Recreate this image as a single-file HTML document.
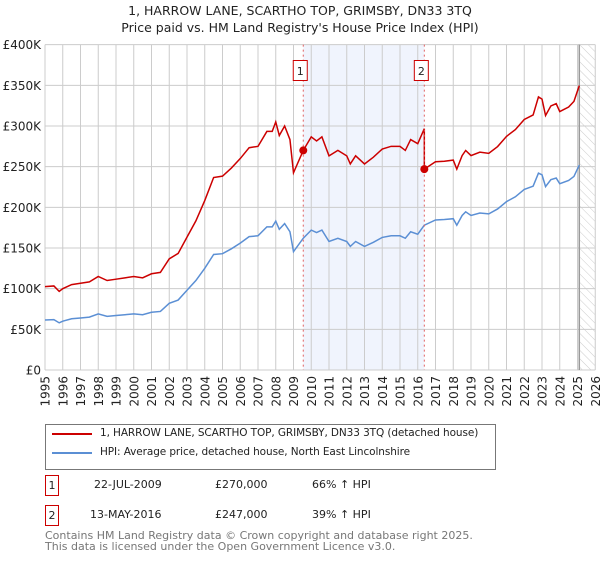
<!DOCTYPE html>
<html><head><meta charset="utf-8"><style>
body{margin:0;background:#fff;font-family:"DejaVu Sans","Liberation Sans",sans-serif;}
svg text{font-family:"DejaVu Sans","Liberation Sans",sans-serif;}
</style></head><body>
<svg id="chart" width="600" height="560" xmlns="http://www.w3.org/2000/svg">
<defs><pattern id="hatch" width="6" height="6" patternUnits="userSpaceOnUse" patternTransform="rotate(-45)"><line x1="0" y1="0" x2="0" y2="6" stroke="#ccc" stroke-width="1"/></pattern></defs>
<text x="300" y="15" text-anchor="middle" font-size="12.5" fill="#222">1, HARROW LANE, SCARTHO TOP, GRIMSBY, DN33 3TQ</text>
<text x="300" y="32" text-anchor="middle" font-size="12.5" fill="#222">Price paid vs. HM Land Registry's House Price Index (HPI)</text>
<g id="grid"></g><g id="marks"></g>
</svg>
<div style="position:absolute;left:45px;top:424px;width:449px;height:44px;border:1px solid #777;font-size:10.5px;color:#222;letter-spacing:-0.1px">
 <div style="position:absolute;left:6px;top:8px;width:40px;height:2px;background:#cc0000"></div>
 <div style="position:absolute;left:54px;top:2px;white-space:nowrap">1, HARROW LANE, SCARTHO TOP, GRIMSBY, DN33 3TQ (detached house)</div>
 <div style="position:absolute;left:6px;top:27px;width:40px;height:2px;background:#5b8fd4"></div>
 <div style="position:absolute;left:54px;top:21px;white-space:nowrap">HPI: Average price, detached house, North East Lincolnshire</div>
</div>
<div style="position:absolute;left:0;top:475px;width:600px;font-size:11px;color:#222">
 <div style="position:absolute;left:45px;top:0;width:12px;height:19px;border:1px solid #cc0000;text-align:center;line-height:19px">1</div>
 <div style="position:absolute;left:94px;top:3px">22-JUL-2009</div>
 <div style="position:absolute;left:215px;top:3px">£270,000</div>
 <div style="position:absolute;left:312px;top:3px">66% ↑ HPI</div>
 <div style="position:absolute;left:45px;top:30px;width:12px;height:19px;border:1px solid #cc0000;text-align:center;line-height:19px">2</div>
 <div style="position:absolute;left:90px;top:33px">13-MAY-2016</div>
 <div style="position:absolute;left:215px;top:33px">£247,000</div>
 <div style="position:absolute;left:312px;top:33px">39% ↑ HPI</div>
</div>
<div style="position:absolute;left:45px;top:530px;font-size:11px;line-height:11px;color:#777">Contains HM Land Registry data © Crown copyright and database right 2025.<br>This data is licensed under the Open Government Licence v3.0.</div>
<script>
const hpiYears=[1995,1995.5,1995.8,1996,1996.5,1997,1997.5,1998,1998.5,1999,1999.5,2000,2000.5,2001,2001.5,2002,2002.5,2003,2003.5,2004,2004.5,2005,2005.5,2006,2006.5,2007,2007.5,2007.8,2008,2008.2,2008.5,2008.8,2009,2009.55,2010,2010.3,2010.6,2011,2011.5,2012,2012.2,2012.5,2013,2013.5,2014,2014.5,2015,2015.3,2015.6,2016,2016.37,2017,2017.5,2018,2018.2,2018.5,2018.7,2019,2019.5,2020,2020.5,2021,2021.5,2022,2022.5,2022.8,2023,2023.2,2023.5,2023.8,2024,2024.5,2024.8,2025.1];
const hpiValues=[61.5,62,58,60,63,64,65,69,66,67,68,69,68,71,72,82,86,98,110,125,142,143,149,156,164,165,176,176,183,173,180,170,145.5,162,172,169,172,158,162,158,152,158,152,157,163,165,165,162,170,167,178,184.5,185,186,178,190,194.5,190,193,192,198,207,213,222,226,242,240,225.5,234,236,229,233,238,252];
const saleYears=[2009.55,2016.37];
const salePrices=[270,247];
const yTicks=[0,50,100,150,200,250,300,350,400];
const yTickLabels=["£0","£50K","£100K","£150K","£200K","£250K","£300K","£350K","£400K"];
const xTicks=[1995,1996,1997,1998,1999,2000,2001,2002,2003,2004,2005,2006,2007,2008,2009,2010,2011,2012,2013,2014,2015,2016,2017,2018,2019,2020,2021,2022,2023,2024,2025,2026];
const dataEnd=2025.1;
const NS='http://www.w3.org/2000/svg';
const X=y=>45+(y-1995)*17.75, Y=v=>370-v*0.8133;
function mk(t,a,p){const e=document.createElementNS(NS,t);for(const k in a)e.setAttribute(k,a[k]);p.appendChild(e);return e;}
const g=document.getElementById('grid'), m=document.getElementById('marks');
let r=mk('rect',{x:X(saleYears[0]),y:Y(400),width:X(saleYears[1])-X(saleYears[0]),height:Y(0)-Y(400),fill:'#f0f4fd'},g);


r=mk('rect',{x:X(dataEnd),y:Y(400),width:X(2026)-X(dataEnd),height:Y(0)-Y(400),fill:'url(#hatch)'},g);


yTicks.forEach((v,i)=>{
 const l=mk('line',{x1:45,x2:X(2026),y1:Y(v),y2:Y(v),stroke:'#ccc'},g);
 
 
 const t=mk('text',{x:41,y:Y(v)+4.5,'text-anchor':'end','font-size':'12',fill:'#222'},g);t.textContent=yTickLabels[i];
 
 
});
xTicks.forEach(y=>{
 const l=mk('line',{x1:X(y),x2:X(y),y1:Y(400),y2:Y(0),stroke:'#ccc'},g);
 
 
 const t=mk('text',{x:0,y:0,'text-anchor':'end','font-size':'12',fill:'#222',transform:`translate(${X(y)+4.5},376) rotate(-90)`},g);t.textContent=y;
 
 
});
let vl=mk('line',{x1:X(dataEnd),x2:X(dataEnd),y1:Y(400),y2:Y(0),stroke:'#999','stroke-width':1.5},g);


function interp(y){for(let i=1;i<hpiYears.length;i++)if(y<=hpiYears[i]){const f=(y-hpiYears[i-1])/(hpiYears[i]-hpiYears[i-1]);return hpiValues[i-1]+f*(hpiValues[i]-hpiValues[i-1]);}return hpiValues[hpiValues.length-1];}
const r1=salePrices[0]/interp(saleYears[0]), r2=salePrices[1]/interp(saleYears[1]);
let bp='',rp='';
hpiYears.forEach((y,i)=>{const v=hpiValues[i];bp+=(i?'L':'M')+X(y)+','+Y(v);});
const ry=[],rv=[];
hpiYears.forEach((y,i)=>{if(y<saleYears[1]){ry.push(y);rv.push(hpiValues[i]*r1);}});
ry.push(saleYears[1]);rv.push(interp(saleYears[1])*r1);
ry.push(saleYears[1]);rv.push(salePrices[1]);
hpiYears.forEach((y,i)=>{if(y>saleYears[1]){ry.push(y);rv.push(hpiValues[i]*r2);}});
ry.forEach((y,i)=>{rp+=(i?'L':'M')+X(y)+','+Y(rv[i]);});
let p=mk('path',{d:bp,fill:'none',stroke:'#5b8fd4','stroke-width':1.5},m);


p=mk('path',{d:rp,fill:'none',stroke:'#cc0000','stroke-width':1.5},m);


saleYears.forEach((y,i)=>{
 const l=mk('line',{x1:X(y),x2:X(y),y1:Y(400),y2:Y(0),stroke:'#e06060','stroke-dasharray':'2,3'},m);
 
 
 const c=mk('circle',{cx:X(y),cy:Y(salePrices[i]),r:4,fill:'#cc0000'},m);
 
 
 const b=mk('rect',{x:X(y)-10,y:60.5,width:14,height:20,fill:'#fff',stroke:'#cc0000'},m);
 
 
 const t=mk('text',{x:X(y)-3,y:75,'text-anchor':'middle','font-size':'11',fill:'#222'},m);t.textContent=i+1;
 
 
});
</script>
</body></html>
